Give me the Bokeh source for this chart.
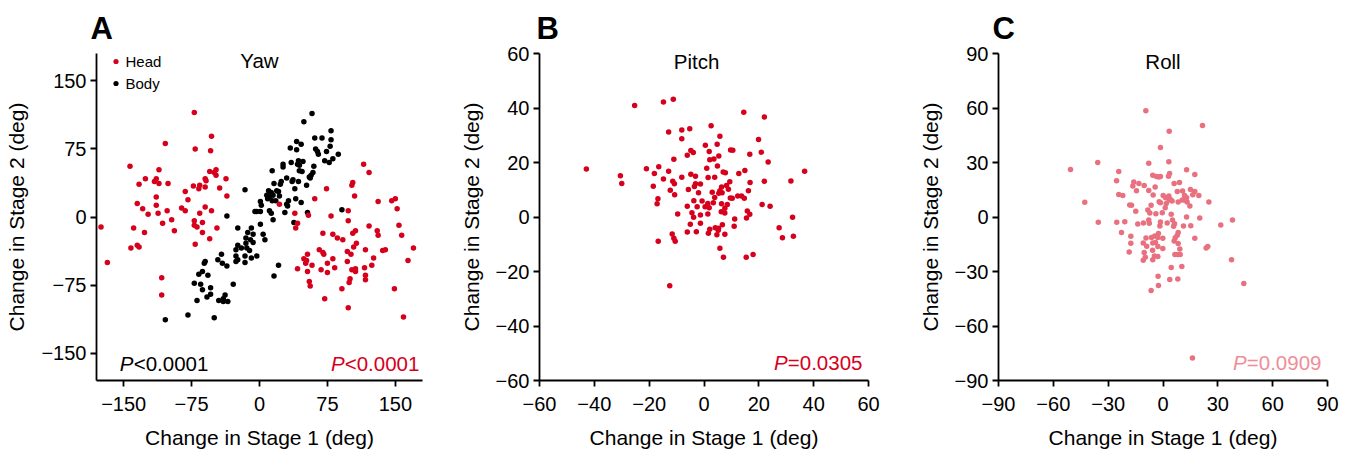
from bokeh.plotting import figure
from bokeh.layouts import row
from bokeh.models import FixedTicker, Label, Legend, LegendItem, Range1d
from bokeh.embed import file_html
from bokeh.resources import INLINE

# ---------------- data (degrees) ----------------
yaw_head_x = [-72, -53, -104, -71, -54, -143, -111, -55, -48, -50, -48, -126, -114, -116, -133, -111, -101, -60, -59, -37,
              -66, -73, -60, -67, -44, -82, -36, -114, -79, -135, -114, -60, -86, -129, -102, -82, -53, -112, -66, -123,
              -97, -72, -107, -63, -72, -69, -175, -139, -47, -94, -127, -63, -55, -71, -135, -133, -142, -168, -108, -108,
              115, 121, 103, 102, 74, 105, 61, 146, 150, 131, 22, 152, 98, 39, 54, 79, 98, 42, 40, 121,
              154, 130, 131, 106, 103, 157, 70, 81, 86, 92, 107, 104, 170, 117, 139, 136, 66, 70, 71, 97,
              101, 53, 126, 81, 75, 83, 49, 52, 51, 97, 164, 58, 124, 116, 42, 68, 102, 106, 106, 53,
              75, 117, 117, 100, 99, 55, 56, 91, 149, 72, 98, 159]
yaw_head_y = [115, 89, 81, 75, 73, 56, 52, 50, 52, 49, 46, 42, 42, 39, 36, 37, 37, 42, 40, 42,
              35, 34, 33, 31, 32, 28, 23, 22, 19, 15, 13, 11, 10, 9, 7, 7, 7, 4, 4, 3,
              -3, -4, -7, -6, -9, -11, -11, -12, -12, -15, -17, -17, -24, -30, -31, -33, -34, -50, -67, -86,
              58, 49, 38, 35, 31, 23, 20, 18, 20, 17, 14, 9, 7, 4, 2, 1, -4, -7, -12, -10,
              -9, -15, -20, -15, -18, -20, -18, -19, -23, -25, -29, -33, -34, -36, -36, -37, -36, -39, -41, -38,
              -41, -41, -45, -46, -51, -56, -46, -48, -51, -49, -48, -53, -53, -56, -57, -58, -58, -57, -60, -60,
              -61, -64, -69, -68, -72, -71, -76, -79, -79, -90, -100, -110]

yaw_body_x = [-16, -5, -36, -9, -24, -13, -7, -15, -10, -7, -15, -24, -20, -14, -11, -26, -26, -24, -16, -9,
              -26, -16, -42, -46, -41, -36, -60, -61, -63, -67, -57, -72, -65, -54, -63, -29, -54, -58, -38, -40,
              -45, -40, -35, -69, -79, -104, -50,
              58, 49, 79, 61, 69, 79, 41, 46, 78, 34, 62, 64, 65, 41, 74, 87, 81, 72, 77, 35,
              43, 48, 42, 44, 26, 26, 60, 14, 44, 47, 59, 57, 55, 56, 30, 37, 36, 43, 24, 23,
              16, 52, 39, 10, 19, 21, 13, 8, 11, 15, 22, 9, 14, 18, 40, 32, 46, 1, 2, 30,
              31, 11, 13, 1, -3, 28, 53, 91, 15, 38, 1, 4, 6, -3, 21, 16]
yaw_body_y = [30, 6, 1, -12, -12, -17, -19, -23, -25, -28, -29, -31, -34, -34, -37, -36, -43, -47, -43, -45,
              -49, -50, -41, -47, -51, -54, -49, -51, -60, -63, -64, -73, -74, -78, -80, -74, -85, -88, -86, -90,
              -92, -93, -93, -92, -108, -113, -111,
              114, 105, 95, 87, 87, 85, 83, 80, 78, 76, 75, 72, 69, 74, 72, 69, 64, 62, 60, 60,
              62, 61, 58, 57, 58, 55, 56, 51, 51, 50, 49, 46, 44, 43, 43, 41, 39, 39, 39, 36,
              37, 35, 31, 29, 29, 28, 27, 24, 22, 24, 23, 20, 18, 18, 20, 18, 16, 17, 13, 14,
              12, 7, 4, 6, 6, 5, 5, 8, -3, -6, -8, -19, -25, -43, -53, -65]

pitch_x = [-25.3, -14.8, -11.2, -12.9, -8.1, -5.2, -8.1, -4.8, -3.9, -6.1, -11.0, -42.9, -21.0, -16.5, -18.1, -12.9,
           -14.8, -30.5, -30.0, -11.4, -10.8, -8.1, -4.8, -3.1, -18.5, -12.3, -10.7, -3.1, -3.5, -5.7, -2.0, -16.8,
           -17.1, -3.7, -6.1, -2.5, -9.6, -4.4, -3.8, -5.0, -6.1, -2.8, -11.6, -11.0, -10.5, -16.7, -12.5,
           14.5, 22.0, 2.6, 5.8, 19.9, 0.5, 4.8, 1.9, 9.7, 10.5, 16.7, 20.9, 5.4, 2.1, 3.6, 23.4,
           1.0, 4.9, 14.9, 7.0, 7.8, 12.7, 36.7, 1.5, 3.9, 9.4, 16.8, 22.0, 31.7, -1.3, 8.2, 6.4,
           8.9, 5.8, 5.4, 6.6, 3.0, 16.2, 3.9, 9.6, 10.3, 12.3, 13.7, 14.7, -0.7, 1.4, 3.4, 0.4,
           1.9, 6.4, 8.5, 7.6, 21.2, 24.1, 6.3, 7.6, 15.8, 16.7, 15.5, 1.4, -1.3, -1.3, 11.2, 11.0,
           6.7, 2.1, 4.1, 5.3, 5.2, 1.6, 4.7, 7.6, 27.4, 32.3, 28.6, 32.6, 5.8, 7.1, 15.4, 17.9]
pitch_y = [40.9, 42.2, 43.2, 31.2, 31.9, 32.4, 28.7, 24.4, 23.7, 22.7, 21.2, 17.6, 17.7, 18.4, 16.0, 16.8,
           13.9, 15.1, 12.3, 13.1, 12.2, 14.6, 15.7, 15.0, 11.3, 9.8, 8.2, 12.2, 11.2, 10.1, 8.9, 6.7,
           4.9, 6.0, 3.9, 3.8, 1.1, 1.6, -0.1, -2.7, -5.5, -5.4, -6.2, -7.8, -8.9, -8.9, -25.2,
           38.4, 36.7, 33.5, 29.6, 28.4, 26.3, 26.7, 24.0, 24.6, 24.5, 23.0, 23.8, 22.4, 21.0, 21.3, 20.2,
           17.9, 18.7, 17.1, 16.5, 16.2, 16.0, 16.8, 14.5, 14.6, 12.9, 12.7, 13.1, 13.2, 12.1, 11.6, 11.0,
           10.2, 9.6, 8.7, 8.9, 9.1, 9.6, 7.2, 7.0, 6.9, 7.7, 7.7, 6.9, 5.9, 5.0, 5.2, 3.8,
           3.4, 4.9, 4.6, 3.2, 4.6, 3.9, 1.9, 1.5, 2.2, 1.0, -0.4, 1.1, 0.7, -2.3, -0.7, -3.4,
           -2.8, -4.5, -3.9, -4.1, -4.9, -6.0, -6.5, -6.3, -3.9, -0.1, -7.6, -7.1, -11.5, -14.8, -14.8, -13.8]

roll_x = [-9.4, -1.4, -35.7, -7.8, -50.6, -24.2, -5.6, -3.6, -2.3, -1.4, -25.4, -16.0, -13.2, -10.3, -16.5, -14.5,
          -4.3, -7.8, -24.2, -22.0, -5.4, -1.4, -2.1, -42.8, -18.2, -17.2, -6.5, -8.3, -14.9, -7.2, -3.9, -7.8,
          -35.4, -25.3, -20.9, -13.8, -10.7, -7.5, -1.4, -1.7, -22.7, -17.6, -17.6, -18.5, -10.8, -8.9, -9.3, -6.3,
          -4.5, -2.5, -2.8, -5.6, -4.1, -2.8, -10.3, -9.7, -10.8, -5.7, -4.7, -2.8, -5.6, -2.7, -2.5, -6.5,
          21.6, 3.4, 3.2, 12.9, 17.4, 3.6, 3.0, 6.1, 9.0, 15.0, 17.4, 16.3, 19.6, 7.8, 10.7, 11.8,
          12.9, 11.8, 10.5, 13.2, 8.3, 25.1, 0.1, 1.4, 3.2, 4.1, 1.8, 3.4, 5.0, 1.2, 14.7, -0.4,
          4.5, 12.9, 20.1, 31.6, 38.0, 2.3, 5.2, 6.3, 5.8, 11.2, 15.2, 8.3, 7.8, 6.7, 6.1, 8.3,
          -0.1, 17.4, 9.2, -0.1, 6.5, 8.1, 9.4, 23.6, 24.5, 37.5, 4.5, 10.3, 3.7, 8.1, 44.2, 16.1]
roll_y = [58.5, 38.2, 30.0, 29.6, 26.2, 25.0, 23.0, 22.3, 22.0, 22.3, 19.9, 19.2, 18.5, 17.4, 17.0, 14.4,
          16.5, 14.6, 12.4, 11.9, 12.1, 7.9, 8.4, 8.1, 6.6, 6.4, 6.4, 3.8, 3.1, 2.2, 1.8, -1.6,
          -2.9, -2.9, -2.6, -3.8, -3.3, -3.5, -2.7, -4.9, -8.6, -10.6, -14.4, -19.2, -14.3, -16.1, -11.5, -11.3,
          -10.4, -9.1, -11.3, -14.3, -14.1, -16.3, -19.6, -22.1, -23.8, -18.3, -21.4, -21.8, -23.6, -32.6, -37.7, -40.4,
          50.3, 47.2, 30.4, 26.0, 23.4, 24.0, 22.5, 18.5, 19.0, 15.2, 14.1, 12.3, 11.9, 14.1, 14.3, 11.9,
          10.6, 9.3, 9.3, 8.2, 8.2, 8.2, 11.9, 10.6, 11.5, 9.7, 7.5, 9.3, 8.8, 5.1, 6.0, 2.4,
          1.5, 0.0, -0.5, -4.4, -1.6, -3.3, -1.6, -3.7, -5.1, -5.0, -4.8, -8.6, -10.0, -11.4, -13.2, -14.6,
          -11.7, -11.7, -17.6, -17.4, -20.7, -20.7, -20.7, -17.0, -16.3, -23.6, -27.8, -27.3, -34.4, -34.1, -36.6, -77.6]

yaw_ticks = [-150, -75, 0, 75, 150]
pitch_ticks = [-60, -40, -20, 0, 20, 40, 60]
roll_ticks = [-90, -60, -30, 0, 30, 60, 90]

FONT = "Liberation Sans"
RED = "#d7001c"
PINK = "#e8707f"
PINK_TXT = "#ef8e99"
BLACK = "#000000"


def tick_text(t):
    return "\u2212" + str(abs(t)) if t < 0 else str(t)


def make_fig(width, lim, ticks, left, right, letter, letter_offset):
    p = figure(width=width, height=453, x_range=Range1d(-lim, lim), y_range=Range1d(-lim, lim),
               output_backend="svg", toolbar_location=None,
               min_border_left=left, min_border_right=right, min_border_top=52, min_border_bottom=73)
    p.grid.visible = False
    p.outline_line_color = None
    p.background_fill_color = "white"
    p.border_fill_color = "white"
    p.title.text = letter
    p.title.text_font = FONT
    p.title.text_font_size = "31px"
    p.title.text_font_style = "bold"
    p.title.text_color = BLACK
    p.title.align = "left"
    p.title.offset = letter_offset
    p.title.standoff = 16
    for ax, lab in ((p.xaxis[0], "Change in Stage 1 (deg)"), (p.yaxis[0], "Change in Stage 2 (deg)")):
        ax.ticker = FixedTicker(ticks=ticks)
        ax.major_label_overrides = {t: tick_text(t) for t in ticks}
        ax.axis_label = lab
        ax.axis_label_text_font = FONT
        ax.axis_label_text_font_size = "21px"
        ax.axis_label_text_font_style = "normal"
        ax.axis_label_text_color = BLACK
        ax.major_label_text_font = FONT
        ax.major_label_text_font_size = "20px"
        ax.major_label_text_color = BLACK
        ax.axis_line_width = 1.8
        ax.axis_line_color = BLACK
        ax.major_tick_line_width = 1.8
        ax.major_tick_line_color = BLACK
        ax.major_tick_out = 6
        ax.major_tick_in = 0
        ax.minor_tick_line_color = None
    p.xaxis[0].major_label_standoff = 10
    p.xaxis[0].axis_label_standoff = 12
    p.yaxis[0].major_label_standoff = 4
    p.yaxis[0].axis_label_standoff = 10
    return p


def add_text(p, x, y, text, size="20.5px", color=BLACK, align="center", style="normal", x_offset=0):
    p.add_layout(Label(x=x, y=y, text=text, text_font=FONT, text_font_size=size, text_color=color,
                       text_align=align, text_baseline="middle", text_font_style=style, x_offset=x_offset))


# ---------------- panel A: yaw ----------------
pA = make_fig(451, 180, yaw_ticks, 96, 29, "A", -6)
rb = pA.scatter(yaw_body_x, yaw_body_y, size=5.5, color=BLACK, line_color=None)
rh = pA.scatter(yaw_head_x, yaw_head_y, size=5.5, color=RED, line_color=None)
leg = Legend(items=[LegendItem(label="Head", renderers=[rh]), LegendItem(label="Body", renderers=[rb])],
             location=(12.5, 288), padding=0, margin=0, spacing=4, glyph_width=13, glyph_height=18,
             label_height=18, label_standoff=4, label_text_font=FONT, label_text_font_size="15px",
             label_text_color=BLACK, border_line_color=None, background_fill_alpha=0)
pA.add_layout(leg)
add_text(pA, 0, 172, "Yaw")
add_text(pA, -154.4, -161, "P", style="italic", align="left")
add_text(pA, -154.4, -161, "<0.0001", align="left", x_offset=14)
add_text(pA, 176.5, -161, "<0.0001", color=RED, align="right")
add_text(pA, 176.5, -161, "P", color=RED, style="italic", align="right", x_offset=-74.7)

# ---------------- panel B: pitch ----------------
pB = make_fig(459, 60, pitch_ticks, 88, 42, "B", -3)
pB.scatter(pitch_x, pitch_y, size=5.5, color=RED, line_color=None)
add_text(pB, -2.7, 57, "Pitch")
add_text(pB, 57.8, -53.4, "=0.0305", color=RED, align="right")
add_text(pB, 57.8, -53.4, "P", color=RED, style="italic", align="right", x_offset=-74.7)

# ---------------- panel C: roll ----------------
pC = make_fig(430, 90, roll_ticks, 88, 13, "C", -6)
pC.scatter(roll_x, roll_y, size=5.5, color=PINK, line_color=None)
add_text(pC, 0, 85.6, "Roll")
add_text(pC, 86.7, -80.1, "=0.0909", color=PINK_TXT, align="right")
add_text(pC, 86.7, -80.1, "P", color=PINK_TXT, style="italic", align="right", x_offset=-74.7)

layout = row(pA, pB, pC)
open("out.html", "w").write(file_html(layout, INLINE))
